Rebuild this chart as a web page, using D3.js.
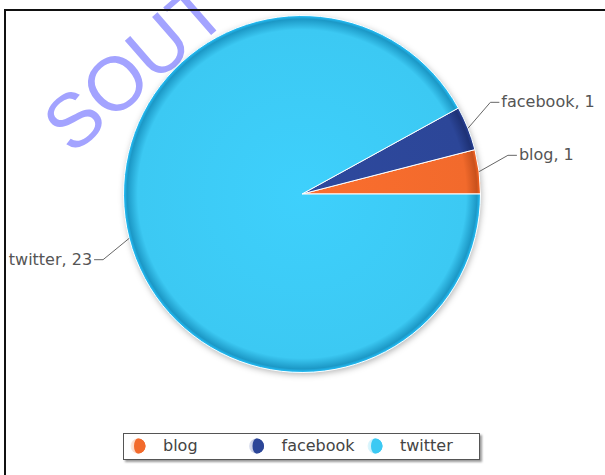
<!DOCTYPE html>
<html><head><meta charset="utf-8">
<script src="https://cdn.jsdelivr.net/npm/d3@7"></script>
<style>html,body{margin:0;padding:0;background:#fff;}svg{display:block;}</style>
</head><body>
<svg id="chart" width="605" height="475"></svg>
<script>
const categories = ["blog", "facebook", "twitter"];
const values = [1, 1, 23];
const colors = ["#F26A2C", "#2C4698", "#3CC9F3"];
const rimColors = ["#C9511C", "#1E3276", "#1C98C6"];
const watermark = "SOUT";

const W = 605, H = 475;
const svg = d3.select("#chart");
const defs = svg.append("defs");
const cx = 302, cy = 194, R = 178.5;

// watermark (under the frame)
svg.append("text").attr("transform", "translate(72,156) rotate(-41)")
  .attr("font-family", "Liberation Sans, Arial, sans-serif").attr("font-size", 76)
  .attr("fill", "#A3A3FF").text(watermark);

// frame
svg.append("line").attr("x1", 4).attr("x2", W).attr("y1", 10).attr("y2", 10).attr("stroke", "#111").attr("stroke-width", 2);
svg.append("line").attr("x1", 5).attr("x2", 5).attr("y1", 9).attr("y2", H).attr("stroke", "#111").attr("stroke-width", 2);

// shadow filters
const f = defs.append("filter").attr("id", "shadow").attr("x", "-20%").attr("y", "-20%").attr("width", "140%").attr("height", "140%");
f.append("feDropShadow").attr("dx", 1).attr("dy", 2).attr("stdDeviation", 3).attr("flood-color", "#000").attr("flood-opacity", 0.3);
const f2 = defs.append("filter").attr("id", "lshadow").attr("x", "-10%").attr("y", "-30%").attr("width", "120%").attr("height", "160%");
f2.append("feDropShadow").attr("dx", 2).attr("dy", 2).attr("stdDeviation", 1.2).attr("flood-color", "#000").attr("flood-opacity", 0.4);

categories.forEach((c, i) => {
  const g = defs.append("radialGradient").attr("id", "grad" + i)
    .attr("gradientUnits", "userSpaceOnUse").attr("cx", 0).attr("cy", 0).attr("r", R);
  g.append("stop").attr("offset", "0%").attr("stop-color", d3.color(colors[i]).brighter(0.1));
  g.append("stop").attr("offset", "92%").attr("stop-color", colors[i]);
  g.append("stop").attr("offset", "98%").attr("stop-color", rimColors[i]);
  g.append("stop").attr("offset", "100%").attr("stop-color", d3.color(rimColors[i]).brighter(0.7));
  const lg = defs.append("linearGradient").attr("id", "lgrad" + i).attr("x1", 0).attr("x2", 1).attr("y1", 0).attr("y2", 0);
  lg.append("stop").attr("offset", "0%").attr("stop-color", d3.interpolateRgb("#fff", colors[i])(0.15));
  lg.append("stop").attr("offset", "45%").attr("stop-color", d3.interpolateRgb("#fff", colors[i])(0.35));
  lg.append("stop").attr("offset", "55%").attr("stop-color", colors[i]);
  lg.append("stop").attr("offset", "100%").attr("stop-color", colors[i]);
});

const data = categories.map((c, i) => ({ name: c, value: values[i], i }));
const pie = d3.pie().sort(null).value(d => d.value).startAngle(Math.PI / 2).endAngle(Math.PI / 2 - 2 * Math.PI);
const arcs = pie(data);
const arc = d3.arc().innerRadius(0).outerRadius(R);

const pg = svg.append("g").attr("transform", `translate(${cx},${cy})`);
pg.append("circle").attr("r", R).attr("fill", "#3CC9F3").attr("filter", "url(#shadow)");
pg.selectAll("path.slice").data(arcs).enter().append("path").attr("class", "slice")
  .attr("d", arc)
  .attr("fill", d => `url(#grad${d.data.i})`)
  .attr("stroke", "#fff").attr("stroke-width", 1).attr("stroke-linejoin", "round");

// labels: natural positions, then space right-side labels evenly around their midpoint
const lblFont = "DejaVu Sans, Verdana, sans-serif";
const rBend = R + 31, yFactor = 1.48 * R;
const labels = arcs.map(a => {
  const mid = (a.startAngle + a.endAngle) / 2;
  const sx = Math.sin(mid), sy = -Math.cos(mid);
  return { a, sx, sy, side: sx >= 0 ? 1 : -1, ly: sy * yFactor };
});
const right = labels.filter(l => l.side > 0).sort((p, q) => p.ly - q.ly);
const minGap = 53;
for (let k = 1; k < right.length; k++) {
  const m = (right[k].ly + right[k - 1].ly) / 2;
  right[k - 1].ly = m - minGap / 2; right[k].ly = m + minGap / 2;
}
labels.forEach(l => {
  const ex = l.sx * R, ey = l.sy * R, side = l.side, ly = l.ly;
  const bx = side * Math.sqrt(Math.max(0, rBend * rBend - ly * ly));
  pg.append("path")
    .attr("d", `M${ex},${ey}L${bx},${ly}L${bx + side * 9},${ly}`)
    .attr("fill", "none").attr("stroke", "#666").attr("stroke-width", 1);
  pg.append("text").attr("x", bx + side * 11).attr("y", ly + 5)
    .attr("text-anchor", side > 0 ? "start" : "end")
    .attr("font-family", lblFont).attr("font-size", 16).attr("fill", "#555")
    .text(`${l.a.data.name}, ${l.a.data.value}`);
});

// legend
const lg = svg.append("g");
lg.append("rect").attr("x", 123.5).attr("y", 433.5).attr("width", 356).attr("height", 26)
  .attr("fill", "#fff").attr("stroke", "#555").attr("stroke-width", 1).attr("filter", "url(#lshadow)");
const lx = d3.scalePoint().domain(categories).range([138, 375]);
categories.forEach((c, i) => {
  const x = lx(c);
  lg.append("circle").attr("cx", x).attr("cy", 446).attr("r", 7.5).attr("fill", `url(#lgrad${i})`);
  lg.append("path").attr("d", `M${x},${438.5}A7.5,7.5 0 0 1 ${x},${453.5}A4,7.5 0 0 1 ${x},${438.5}Z`).attr("fill", colors[i]);
  lg.append("text").attr("x", x + 25).attr("y", 451).attr("font-family", lblFont)
    .attr("font-size", 16).attr("fill", "#444").text(c);
});
</script>
</body></html>
